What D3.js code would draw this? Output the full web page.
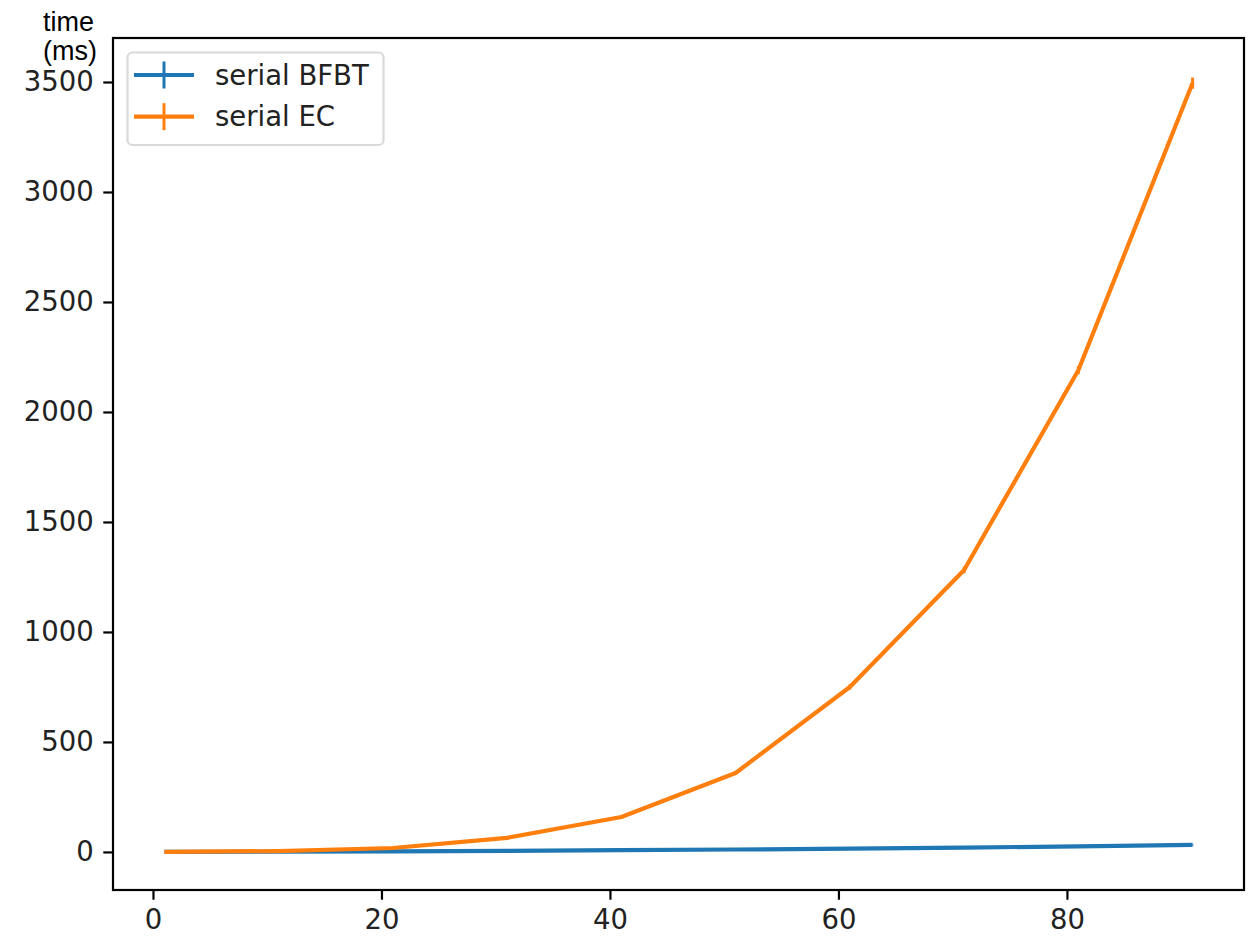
<!DOCTYPE html>
<html>
<head>
<meta charset="utf-8">
<script src="https://cdn.jsdelivr.net/npm/d3@7/dist/d3.min.js"></script>
<style>
  html, body { margin: 0; padding: 0; background: #fff; }
  svg { display: block; }
</style>
</head>
<body>
<svg id="chart" width="1251" height="944"></svg>
<script>
// ---- data ----
const sizes = [1, 11, 21, 31, 41, 51, 61, 71, 81, 91];
const bfbtTime = [0.1, 1, 3, 5, 8, 11, 15, 20, 25, 32];
const bfbtErr  = [0.1, 0.2, 0.3, 0.4, 0.5, 0.6, 0.8, 1, 1.2, 1.5];
const ecTime = [0.5, 4, 18, 64, 159, 359, 750, 1282, 2190, 3495];
const ecErr  = [0.1, 0.5, 2, 4, 6, 8, 12, 15, 18, 25];
const xTicks = [0, 20, 40, 60, 80];
const yTicks = [0, 500, 1000, 1500, 2000, 2500, 3000, 3500];
const seriesNames = ["serial BFBT", "serial EC"];
const seriesColors = ["#1f77b4", "#ff7f0e"];

// ---- layout ----
const svg = d3.select("#chart");
const L = 113, R = 1244, T = 38, B = 890;
const x = d3.scaleLinear().domain([-3.5, 95.5]).range([L, R]);
const y = d3.scaleLinear().domain([-173, 3700]).range([B, T]);
const fontTick = "'DejaVu Sans', sans-serif";
const fs = 27.5;

// axes
const xAxis = d3.axisBottom(x).tickValues(xTicks).tickSize(9.7).tickPadding(9.5).tickFormat(d3.format("d"));
const yAxis = d3.axisLeft(y).tickValues(yTicks).tickSize(9.7).tickPadding(9.5).tickFormat(d3.format("d"));

const gx = svg.append("g").attr("transform", `translate(0,${B})`).call(xAxis);
const gy = svg.append("g").attr("transform", `translate(${L},0)`).call(yAxis);
[gx, gy].forEach(g => {
  g.select(".domain").remove();
  g.selectAll(".tick line").attr("stroke", "#000").attr("stroke-width", 2.2);
  g.selectAll(".tick text").attr("fill", "#222").style("font-family", fontTick).style("font-size", fs + "px");
});

// series
const line = d3.line().x(d => x(d[0])).y(d => y(d[1]));
const series = [
  { vals: bfbtTime, err: bfbtErr },
  { vals: ecTime, err: ecErr }
];
series.forEach((s, i) => {
  const g = svg.append("g");
  const pts = sizes.map((sz, j) => [sz, s.vals[j], s.err[j]]);
  g.append("path").datum(pts).attr("d", line)
    .attr("fill", "none").attr("stroke", seriesColors[i]).attr("stroke-width", 4.2)
    .attr("stroke-linejoin", "round").attr("stroke-linecap", "butt");
  g.selectAll("line.err").data(pts).enter().append("line")
    .attr("x1", d => x(d[0])).attr("x2", d => x(d[0]))
    .attr("y1", d => y(d[1] - d[2])).attr("y2", d => y(d[1] + d[2]))
    .attr("stroke", seriesColors[i]).attr("stroke-width", 3);
});

// frame
svg.append("rect").attr("x", L).attr("y", T).attr("width", R - L).attr("height", B - T)
  .attr("fill", "none").attr("stroke", "#000").attr("stroke-width", 2.2);

// legend
const lg = svg.append("g");
lg.append("rect").attr("x", 127.5).attr("y", 52.5).attr("width", 256).attr("height", 92.5)
  .attr("rx", 5).attr("ry", 5)
  .attr("fill", "#fff").attr("fill-opacity", 0.8).attr("stroke", "#d9d9d9").attr("stroke-width", 2.2);
seriesNames.forEach((name, i) => {
  const cy = 75 + i * 41.7;
  lg.append("line").attr("x1", 134).attr("x2", 194).attr("y1", cy).attr("y2", cy)
    .attr("stroke", seriesColors[i]).attr("stroke-width", 4.2);
  lg.append("line").attr("x1", 164).attr("x2", 164).attr("y1", cy - 13.5).attr("y2", cy + 13.5)
    .attr("stroke", seriesColors[i]).attr("stroke-width", 3);
  lg.append("text").attr("x", 215).attr("y", cy + 9.5).text(name)
    .attr("fill", "#222").style("font-family", fontTick).style("font-size", fs + "px");
});

// y label
const yl = svg.append("text").attr("fill", "#000")
  .style("font-family", "'Liberation Sans', Arial, sans-serif").style("font-size", "27px");
yl.append("tspan").attr("x", 43).attr("y", 31).text("time");
yl.append("tspan").attr("x", 43).attr("y", 59.5).text("(ms)");
</script>
</body>
</html>
